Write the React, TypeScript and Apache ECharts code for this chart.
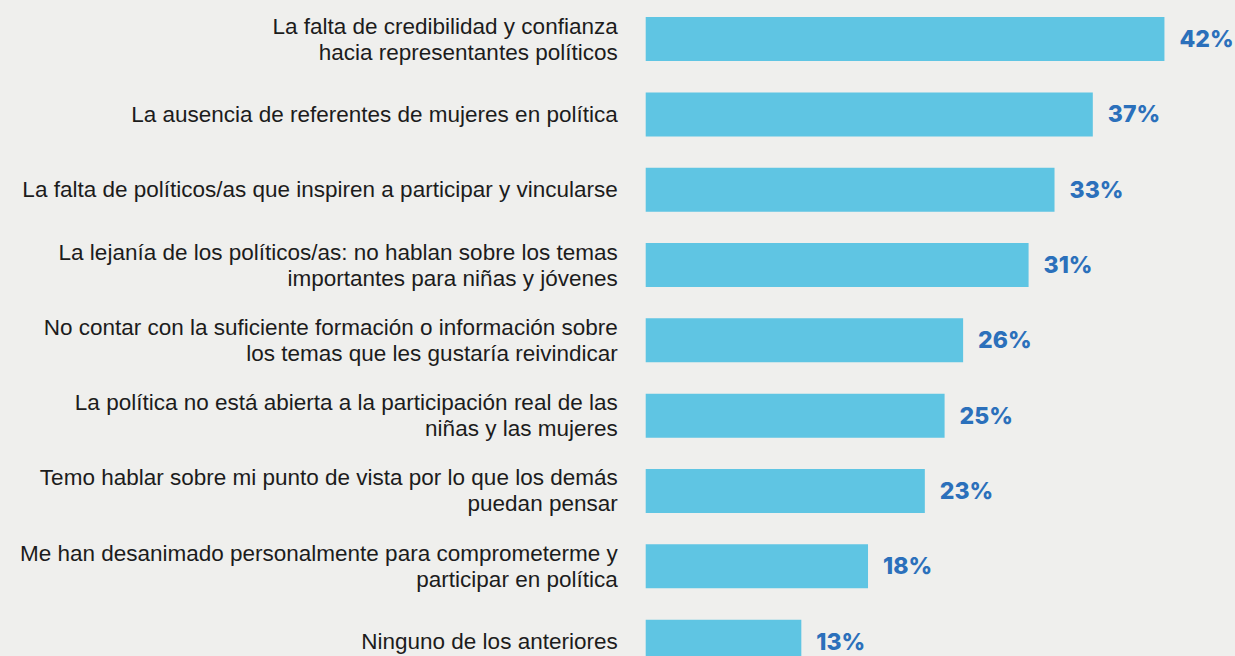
import React, { useEffect, useRef } from "react";
import * as echarts from "echarts";

const categories: string[] = [
  "La falta de credibilidad y confianza\nhacia representantes políticos",
  "La ausencia de referentes de mujeres en política",
  "La falta de políticos/as que inspiren a participar y vincularse",
  "La lejanía de los políticos/as: no hablan sobre los temas\nimportantes para niñas y jóvenes",
  "No contar con la suficiente formación o información sobre\nlos temas que les gustaría reivindicar",
  "La política no está abierta a la participación real de las\nniñas y las mujeres",
  "Temo hablar sobre mi punto de vista por lo que los demás\npuedan pensar",
  "Me han desanimado personalmente para comprometerme y\nparticipar en política",
  "Ninguno de los anteriores",
];

// bar lengths as drawn (percent)
const values: number[] = [42.0, 36.2, 33.1, 31.0, 25.7, 24.2, 22.6, 18.0, 12.6];
// printed labels
const valueLabels: string[] = ["42%", "37%", "33%", "31%", "26%", "25%", "23%", "18%", "13%"];

export default function App() {
  const ref = useRef<HTMLDivElement>(null);

  useEffect(() => {
    if (!ref.current) return;
    const chart = echarts.init(ref.current, null, { renderer: "svg" });
    chart.setOption({
      animation: false,
      backgroundColor: "#efefed",
      grid: { left: 645.7, top: 1.4, bottom: 0.7, right: 8.8, containLabel: false },
      xAxis: {
        type: "value",
        min: 0,
        max: 47,
        show: false,
        splitLine: { show: false },
      },
      yAxis: {
        type: "category",
        inverse: true,
        data: categories,
        axisLine: { show: false },
        axisTick: { show: false },
        splitLine: { show: false },
        axisLabel: {
          margin: 28,
          fontSize: 22.5,
          lineHeight: 26,
          color: "#1c1c1c",
          fontFamily: "'Liberation Sans', Arial, sans-serif",
          align: "right",
        },
      },
      series: [
        {
          type: "bar",
          data: values,
          barWidth: 44,
          itemStyle: { color: "#5fc5e3" },
          label: {
            show: true,
            position: "right",
            distance: 15,
            formatter: (p: any) => valueLabels[p.dataIndex],
            color: "#2b70bb",
            fontSize: 23,
            fontWeight: 800,
            fontFamily: "Inter, 'Open Sans', sans-serif",
          },
        },
      ],
    });
    return () => chart.dispose();
  }, []);

  return (
    <div style={{ position: "fixed", left: 0, top: 0, width: 1235, height: 656, overflow: "hidden", background: "#efefed" }}>
      <div ref={ref} style={{ position: "absolute", left: 0, top: 0, width: 1235, height: 680 }} />
    </div>
  );
}
